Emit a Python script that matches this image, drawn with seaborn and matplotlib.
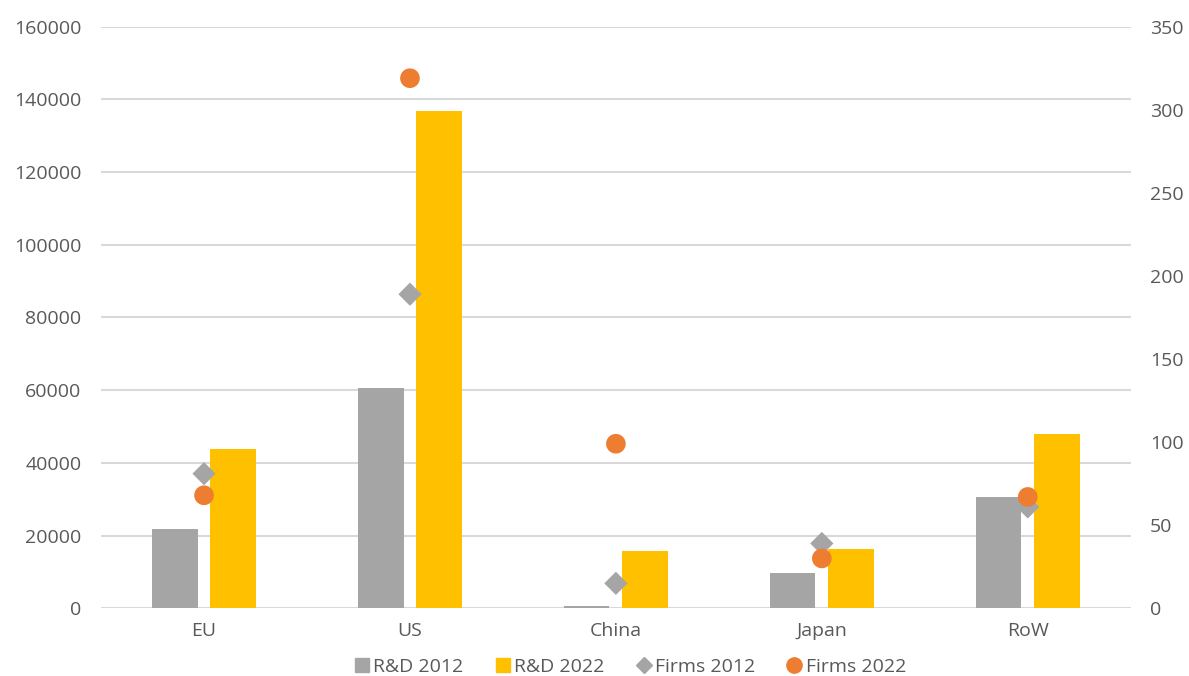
import matplotlib
matplotlib.use("Agg")
import matplotlib.pyplot as plt
from matplotlib.lines import Line2D
import seaborn as sns
import pandas as pd

regions = ["EU", "US", "China", "Japan", "RoW"]
rd_2012 = [21700, 60600, 500, 9800, 30500]
rd_2022 = [43800, 136900, 15700, 16300, 48000]
firms_2012 = [81, 189, 15, 39, 61]
firms_2022 = [68, 319, 99, 30, 67]

left_ticks = [0, 20000, 40000, 60000, 80000, 100000, 120000, 140000, 160000]
right_ticks = [0, 50, 100, 150, 200, 250, 300, 350]

GREY = "#A5A5A5"
YELLOW = "#FFC000"
ORANGE = "#ED7D31"
TEXT = "#595959"
GRID = "#D9D9D9"

sns.set_theme(style="white")
plt.rcParams["font.family"] = ["Open Sans", "DejaVu Sans"]
plt.rcParams["font.size"] = 14

rd = pd.DataFrame({
    "region": regions * 2,
    "series": ["R&D 2012"] * 5 + ["R&D 2022"] * 5,
    "value": rd_2012 + rd_2022,
})
firms = pd.DataFrame({
    "region": regions * 2,
    "series": ["Firms 2012"] * 5 + ["Firms 2022"] * 5,
    "value": firms_2012 + firms_2022,
})

fig = plt.figure(figsize=(11.89, 6.76), dpi=100)
ax = fig.add_axes([0.085, 0.1002, 0.866, 0.8603])

sns.barplot(data=rd, x="region", y="value", hue="series", order=regions,
            palette={"R&D 2012": GREY, "R&D 2022": YELLOW},
            width=0.57, gap=0.22, saturation=1, linewidth=0,
            legend=False, ax=ax)

ax.set_ylim(0, 160000)
ax.set_xlim(-0.5, 4.5)
ax.set_yticks(left_ticks)
ax.set_yticklabels([str(t) for t in left_ticks])
ax.yaxis.grid(True, color=GRID, linewidth=1.5)
ax.set_axisbelow(True)
ax.set_xlabel("")
ax.set_ylabel("")
for s in ax.spines.values():
    s.set_visible(False)
ax.tick_params(axis="y", length=0, pad=14, labelcolor=TEXT, labelsize=14)
ax.tick_params(axis="x", length=0, pad=10, labelcolor=TEXT, labelsize=14)

ax2 = ax.twinx()
sns.scatterplot(data=firms, x="region", y="value", hue="series", style="series",
                size="series",
                palette={"Firms 2012": GREY, "Firms 2022": ORANGE},
                markers={"Firms 2012": "D", "Firms 2022": "o"},
                sizes={"Firms 2012": 140, "Firms 2022": 200},
                linewidth=0, legend=False, ax=ax2, zorder=5)
ax2.set_ylim(0, 350)
ax2.set_xlim(-0.5, 4.5)
ax2.set_yticks(right_ticks)
ax2.set_ylabel("")
ax2.grid(False)
for s in ax2.spines.values():
    s.set_visible(False)
ax2.tick_params(axis="y", length=0, pad=14, labelcolor=TEXT, labelsize=14)

handles = [
    Line2D([], [], linestyle="none", marker="s", markersize=10, color=GREY),
    Line2D([], [], linestyle="none", marker="s", markersize=10, color=YELLOW),
    Line2D([], [], linestyle="none", marker="D", markersize=8, color=GREY),
    Line2D([], [], linestyle="none", marker="o", markersize=11, color=ORANGE),
]
labels = ["R&D 2012", "R&D 2022", "Firms 2012", "Firms 2022"]
leg = fig.legend(handles, labels, loc="center", bbox_to_anchor=(0.53, 0.013),
                 ncol=4, frameon=False, handlelength=0.8, handletextpad=0.2,
                 columnspacing=1.6, fontsize=14)
for t in leg.get_texts():
    t.set_color(TEXT)

fig.savefig("out.png", dpi=100)
